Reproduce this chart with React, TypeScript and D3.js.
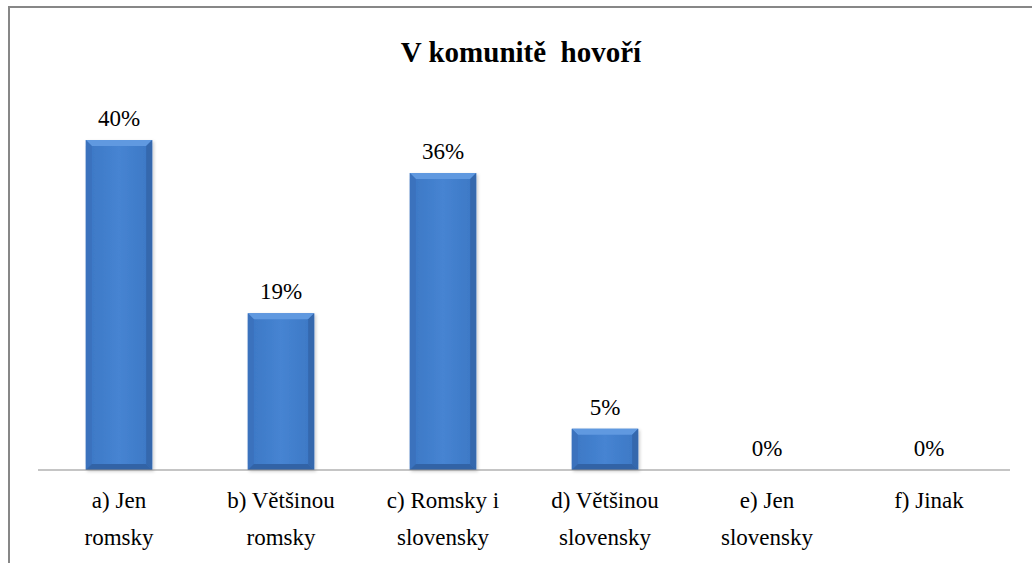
import * as d3 from 'd3';

const categories = ['a) Jen romsky', 'b) Většinou romsky', 'c) Romsky i slovensky', 'd) Většinou slovensky', 'e) Jen slovensky', 'f) Jinak'];
const categoryLines = [['a) Jen', 'romsky'], ['b) Většinou', 'romsky'], ['c) Romsky i', 'slovensky'], ['d) Většinou', 'slovensky'], ['e) Jen', 'slovensky'], ['f) Jinak']];
const values = [40, 19, 36, 5, 0, 0];
const title = 'V komunitě\u00a0 hovoří';

const width = 1032;
const height = 563;
const marginLeft = 38;
const marginRight = 22;
const baseY = 470;
const bev = 6;

const x = d3.scaleBand()
  .domain(categories)
  .range([marginLeft, width - marginRight])
  .paddingInner(0.59).paddingOuter(0.295);

const y = d3.scaleLinear().domain([0, 45]).range([baseY, baseY - 45 * 8.25]);

const poly = (pts: number[][]) => pts.map(p => p.join(',')).join(' ');

export default function App() {
  return (
    <div style={{ position: 'absolute', left: 0, top: 0, fontFamily: 'Times New Roman' }}>
      <svg width={width} height={height} viewBox={`0 0 ${width} ${height}`} style={{ display: 'block' }}>
        <defs>
          <linearGradient id="barFill" x1={0} x2={1} y1={0} y2={0}>
            <stop offset="0%" stopColor="#3c77c4" />
            <stop offset="50%" stopColor="#4684d2" />
            <stop offset="100%" stopColor="#3c77c4" />
          </linearGradient>
          <filter id="shadow">
            <feDropShadow dx={1.5} dy={1.5} stdDeviation={1.5} floodColor="#000" floodOpacity={0.2} />
          </filter>
        </defs>
        <rect width={width} height={height} fill="#fff" />
        {/* chart border, cropped at right and bottom */}
        <rect x={9} y={7} width={width + 20} height={height + 20} fill="none" stroke="#878787" strokeWidth={2} />

        <text x={521} y={62} textAnchor="middle" fontWeight="bold" fontSize={29} style={{ fontFamily: 'Times New Roman' }}>{title}</text>

        {categories.map((c, i) => {
          const v = values[i];
          if (v <= 0) return null;
          const x0 = x(c)!;
          const x1 = x0 + x.bandwidth();
          const t = y(v);
          const b = y(0);
          return (
            <g key={c} filter="url(#shadow)">
              <rect x={x0} y={t} width={x.bandwidth()} height={b - t} fill="url(#barFill)" />
              <polygon points={poly([[x0, t], [x1, t], [x1 - bev, t + bev], [x0 + bev, t + bev]])} fill="#6199e0" />
              <polygon points={poly([[x0, t], [x0 + bev, t + bev], [x0 + bev, b - bev], [x0, b]])} fill="#3a72bd" />
              <polygon points={poly([[x1, t], [x1 - bev, t + bev], [x1 - bev, b - bev], [x1, b]])} fill="#3467ad" />
              <polygon points={poly([[x0, b], [x1, b], [x1 - bev, b - bev], [x0 + bev, b - bev]])} fill="#3363a6" />
            </g>
          );
        })}

        <line x1={marginLeft} x2={width - marginRight} y1={baseY} y2={baseY} stroke="#8c8c8c" strokeWidth={1.2} />

        {categories.map((c, i) => (
          <text key={c} x={x(c)! + x.bandwidth() / 2} y={y(values[i]) - 14} textAnchor="middle" fontSize={23}
            style={{ fontFamily: 'Times New Roman' }}>{`${values[i]}%`}</text>
        ))}

        {categories.map((c, i) => (
          <text key={c} textAnchor="middle" fontSize={23} style={{ fontFamily: 'Times New Roman' }}>
            {categoryLines[i].map((l, j) => (
              <tspan key={l} x={x(c)! + x.bandwidth() / 2} y={508 + j * 37}>{l}</tspan>
            ))}
          </text>
        ))}
      </svg>
    </div>
  );
}
